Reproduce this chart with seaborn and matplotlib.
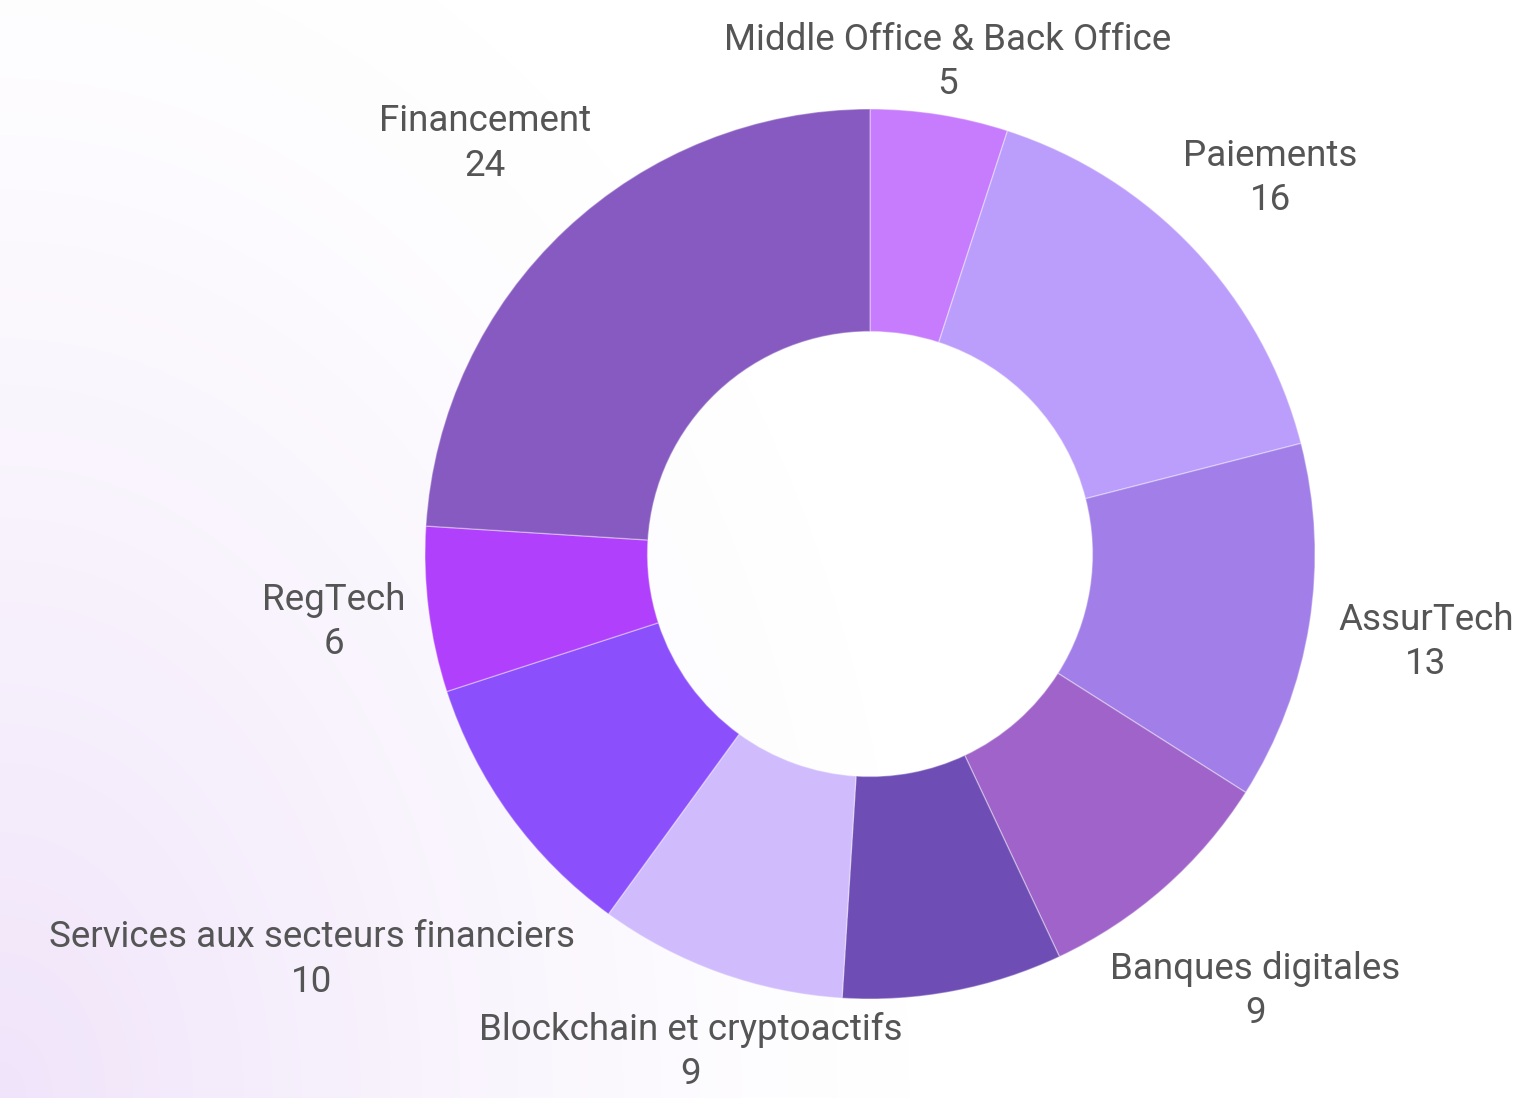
import numpy as np
import matplotlib.pyplot as plt
import seaborn as sns

# data (clockwise from 12 o'clock)
categories = [
    "Middle Office & Back Office",
    "Paiements",
    "AssurTech",
    "Banques digitales",
    None,  # unlabeled slice in the original
    "Blockchain et cryptoactifs",
    "Services aux secteurs financiers",
    "RegTech",
    "Financement",
]
counts = [5, 16, 13, 9, 8, 9, 10, 6, 24]

slice_colors = ["#C67CFD", "#BB9DFB", "#A27FE8", "#9F63C9", "#6E4DB5",
                "#D0BBFD", "#8B4FFB", "#B040FB", "#865AC0"]
label_dist = [1.12, 1.235, 1.265, 1.31, 1.2, 1.19, 1.55, 1.215, 1.265]

sns.set_theme(style="white")
plt.rcParams['font.family'] = ['Roboto', 'DejaVu Sans']

W, H = 1526, 1098
fig = plt.figure(figsize=(W / 100, H / 100), dpi=100)

# soft lavender glow in the lower-left corner
bg = fig.add_axes([0, 0, 1, 1], zorder=-1)
yy, xx = np.mgrid[0:H, 0:W]
d = np.hypot(xx * 1.1, (H - 1 - yy) * 0.8)
t = np.clip(1 - d / 1000, 0, 1) ** 1.3
tint = np.array([240, 228, 250]) / 255
img = (1 - t[..., None]) * 1.0 + t[..., None] * tint
bg.imshow(img, aspect='auto', extent=(0, 1, 0, 1))
bg.axis('off')

ax = fig.add_axes([0, 0, 1, 1])
ax.patch.set_alpha(0)
wedges, _ = ax.pie(
    counts, colors=slice_colors, startangle=90, counterclock=False,
    wedgeprops=dict(width=0.5, edgecolor=(1, 1, 1, 0.35), linewidth=1),
)

for w, name, n, r in zip(wedges, categories, counts, label_dist):
    if name is None:
        continue
    ang = np.deg2rad((w.theta1 + w.theta2) / 2)
    ax.text(r * np.cos(ang), r * np.sin(ang), f"{name}\n{n}",
            ha='center', va='center', fontsize=26.5,
            color='#555555', linespacing=1.3)

# center the donut at pixel (870, 554) with radius ~445 px
R = 445
cx, cy = 870, H - 554
ax.set_aspect('auto')
ax.set_xlim(-cx / R, (W - cx) / R)
ax.set_ylim(-cy / R, (H - cy) / R)
ax.axis('off')

fig.savefig("out.png", dpi=100)
